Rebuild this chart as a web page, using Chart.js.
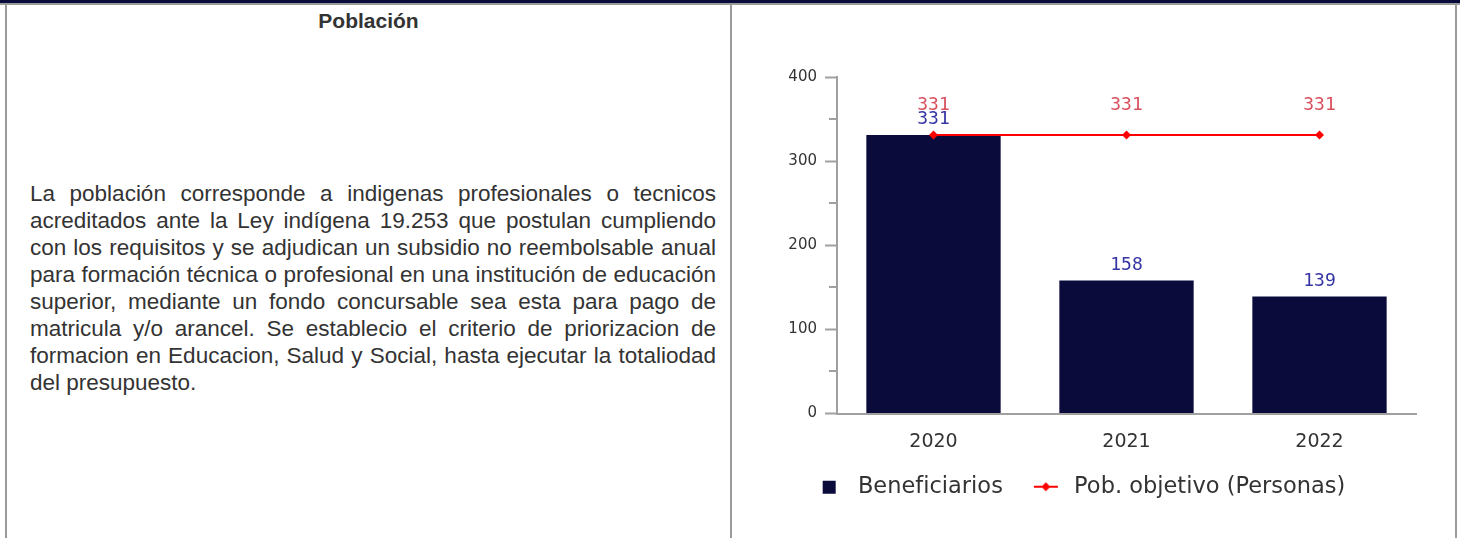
<!DOCTYPE html>
<html lang="es">
<head>
<meta charset="utf-8">
<title>Población</title>
<script src="https://cdn.jsdelivr.net/npm/chart.js@4.4.1/dist/chart.umd.min.js"></script>
<style>
  html, body { margin: 0; padding: 0; background: #fff; }
  body { width: 1460px; height: 538px; position: relative; overflow: hidden;
         font-family: "Liberation Sans", Arial, sans-serif; color: #333; }
  .topbar  { position: absolute; left: 0; top: 0; width: 1460px; height: 3px; background: #0b0b3b; }
  .topline { position: absolute; left: 0; top: 3px; width: 1460px; height: 2px; background: #9a9a9a; }
  .vline   { position: absolute; top: 3px; bottom: 0; width: 2px; background: #9a9a9a; }
  .head    { position: absolute; left: 6px; width: 725px; top: 9px; text-align: center;
             font-weight: bold; font-size: 21px; line-height: 24px; }
  .text    { position: absolute; left: 30px; width: 686px; top: 180px; margin: 0;
             font-size: 22.5px; line-height: 27px; text-align: justify; }
  #chart   { position: absolute; left: 733px; top: 5px; }
</style>
</head>
<body>
<div class="topbar"></div>
<div class="topline"></div>
<div class="vline" style="left:5px"></div>
<div class="vline" style="left:730px"></div>
<div class="vline" style="left:1455px"></div>

<div class="head">Población</div>
<p class="text">La población corresponde a indigenas profesionales o tecnicos acreditados ante la Ley indígena 19.253 que postulan cumpliendo con los requisitos y se adjudican un subsidio no reembolsable anual para formación técnica o profesional en una institución de educación superior, mediante un fondo concursable sea esta para pago de matricula y/o arancel. Se establecio el criterio de priorizacion de formacion en Educacion, Salud y Social, hasta ejecutar la totaliodad del presupuesto.</p>

<canvas id="chart" width="722" height="533"></canvas>

<script>
const years             = ['2020', '2021', '2022']
const beneficiarios     = [331, 158, 139]
const poblacionObjetivo = [331, 331, 331]
const yMajor            = [0, 100, 200, 300, 400]
const yMinor            = [50, 150, 250, 350]

const BAR  = '#0b0b3b'
const RED  = '#ff0000'
const AXIS = '#a0a0a0'

// legend icons drawn into small canvases (square for bars, line+diamond for the target)
function legendIcon(draw) {
  const c = document.createElement('canvas')
  c.width = 34
  c.height = 16
  draw(c.getContext('2d'))
  return c
}
const barIcon = legendIcon(ctx => {
  ctx.fillStyle = BAR
  ctx.fillRect(10, 2, 13, 13)
})
const lineIcon = legendIcon(ctx => {
  ctx.strokeStyle = RED
  ctx.lineWidth = 2
  ctx.beginPath(); ctx.moveTo(5, 8); ctx.lineTo(29, 8); ctx.stroke()
  ctx.fillStyle = RED
  ctx.beginPath()
  ctx.moveTo(17, 3.5); ctx.lineTo(21.5, 8); ctx.lineTo(17, 12.5); ctx.lineTo(12.5, 8)
  ctx.closePath(); ctx.fill()
})

// value labels above bars / points
const valueLabels = {
  id: 'valueLabels',
  afterDatasetsDraw(chart) {
    const { ctx } = chart
    ctx.save()
    ctx.font = '18px "DejaVu Sans Mono"'
    ctx.textAlign = 'center'
    ctx.textBaseline = 'alphabetic'
    chart.data.datasets.forEach((ds, i) => {
      ctx.fillStyle = ds.labelColor
      chart.getDatasetMeta(i).data.forEach((el, j) => {
        ctx.fillText(String(ds.data[j]), el.x, el.y - ds.labelOffset)
      })
    })
    ctx.restore()
  }
}

// short minor ticks between the labelled ones
const minorTicks = {
  id: 'minorTicks',
  afterDraw(chart) {
    const y = chart.scales.y
    const { ctx } = chart
    ctx.save()
    ctx.strokeStyle = AXIS
    ctx.lineWidth = 2
    yMinor.forEach(v => {
      const py = Math.round(y.getPixelForValue(v))
      ctx.beginPath(); ctx.moveTo(y.right - 8, py); ctx.lineTo(y.right, py); ctx.stroke()
    })
    ctx.restore()
  }
}

new Chart(document.getElementById('chart'), {
  type: 'bar',
  data: {
    labels: years,
    datasets: [
      {
        label: 'Beneficiarios',
        data: beneficiarios,
        backgroundColor: BAR,
        barPercentage: 0.696,
        categoryPercentage: 1,
        order: 2,
        labelColor: '#3434a4',
        labelOffset: 11,
      },
      {
        type: 'line',
        label: 'Pob. objetivo (Personas)',
        data: poblacionObjetivo,
        borderColor: RED,
        backgroundColor: RED,
        borderWidth: 2,
        pointStyle: 'rectRot',
        pointRadius: 4.5,
        pointBorderWidth: 0,
        pointBackgroundColor: RED,
        tension: 0,
        order: 1,
        labelColor: '#d9505e',
        labelOffset: 25,
      },
    ],
  },
  options: {
    responsive: false,
    animation: false,
    layout: { padding: { left: 9, right: 39, top: 72, bottom: 30 } },
    plugins: {
      tooltip: { enabled: false },
      legend: {
        position: 'bottom',
        labels: {
          usePointStyle: true,
          pointStyleWidth: 34,
          boxHeight: 16,
          padding: 26,
          color: '#333',
          font: { family: '"DejaVu Sans"', size: 22.5 },
          generateLabels: chart =>
            Chart.defaults.plugins.legend.labels.generateLabels(chart)
              .map(item => ({ ...item, pointStyle: item.datasetIndex === 0 ? barIcon : lineIcon }))
              .sort((a, b) => a.datasetIndex - b.datasetIndex),
        },
      },
    },
    scales: {
      x: {
        grid: { drawOnChartArea: false, drawTicks: false },
        border: { color: AXIS, width: 2 },
        ticks: { color: '#333', font: { family: '"DejaVu Sans"', size: 19 }, padding: 17 },
        afterFit: s => { s.height = 36 },
      },
      y: {
        min: 0,
        max: 400,
        afterBuildTicks: s => { s.ticks = yMajor.map(value => ({ value })) },
        grid: { drawOnChartArea: false, tickLength: 12, tickColor: AXIS, tickWidth: 2 },
        border: { color: AXIS, width: 2 },
        ticks: { color: '#333', font: { family: '"DejaVu Sans"', size: 15 }, padding: 8 },
        afterFit: s => { s.width = 95 },
      },
    },
  },
  plugins: [valueLabels, minorTicks],
})
</script>
</body>
</html>
